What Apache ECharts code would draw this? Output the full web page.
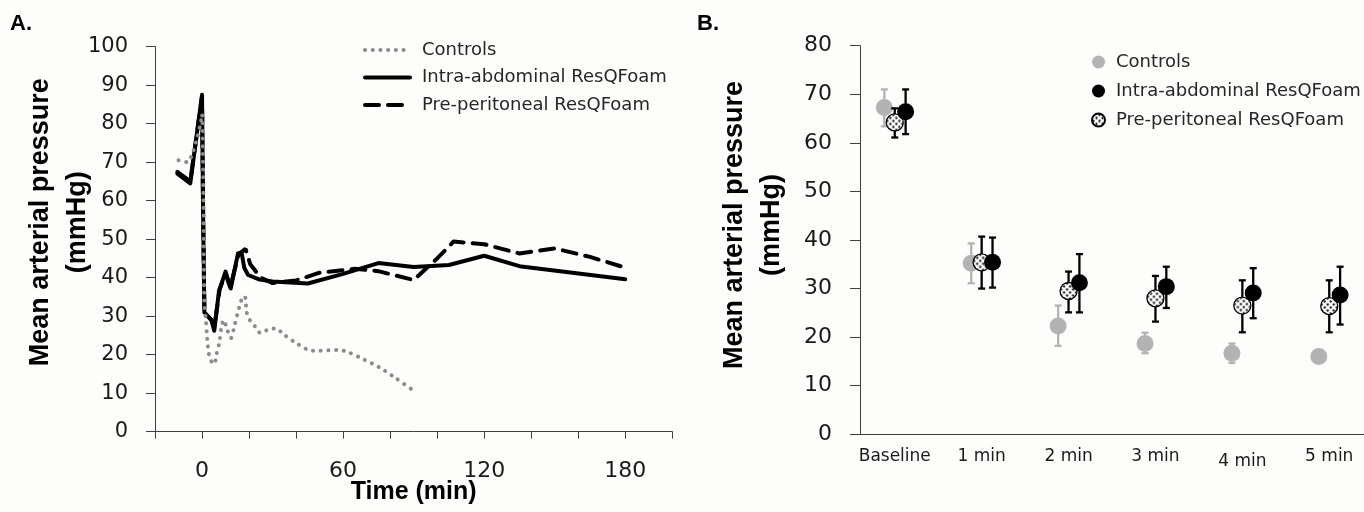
<!DOCTYPE html>
<html>
<head>
<meta charset="utf-8">
<script src="https://cdn.jsdelivr.net/npm/echarts@6/dist/echarts.min.js"></script>
<style>
html, body { margin: 0; padding: 0; background: #fdfdfb; }
#main { width: 1364px; height: 512px; }
</style>
</head>
<body>
<div id="main"></div>
<script>
// ---- panel A : MAP over time (min) ----
var controlsTime = [-10, -6.2, -4.3, -2.1, -0.5, 0, 0.6, 1, 1.6, 2.2, 3, 4.2, 5.2, 6.1, 7.3, 8.2, 9.2, 10.6, 12.3, 13.4, 15, 16.2, 17.5, 18.4, 19, 20.3, 22.6, 25, 28.3, 31.4, 34.5, 40.6, 47, 58.5, 62, 68.7, 75.5, 81.7, 91];
var controlsMap  = [70.5, 70, 71.9, 76.2, 80.5, 82.5, 60, 33, 29.5, 24, 20, 18, 17.6, 20, 23, 27, 29, 26.7, 24.3, 26.5, 30.5, 33, 35.2, 34.8, 31, 29, 27.3, 25.6, 26.6, 26.8, 25.4, 22.8, 21, 21.2, 20.7, 18.8, 16.7, 14.2, 10.2];

var intraTime = [-10.5, -5, 0, 0.4, 1, 4, 5.2, 7.2, 10, 12.2, 15.3, 16.8, 18, 19.6, 24.5, 30, 45, 60, 75, 90, 105, 120, 135, 180];
var intraMap  = [67, 64.5, 87.5, 60, 31, 29, 26.2, 36.5, 41.6, 37.2, 46.3, 46.6, 42.5, 40.7, 39.5, 39, 38.5, 41, 43.8, 42.8, 43.3, 45.7, 43, 39.6];

var preTime = [-10.5, -5, 0, 0.4, 1, 4, 5.2, 7.5, 10, 12, 15.5, 18.5, 20.5, 25, 30, 40, 50, 65, 75, 90, 100, 107, 120, 135, 150, 165, 180];
var preMap  = [67.5, 65, 87, 60, 31, 29, 27, 37, 41, 37.5, 46, 47.5, 43.5, 40, 38.6, 39.3, 41.3, 42.3, 41.7, 39.4, 45, 49.4, 48.7, 46.3, 47.6, 45.4, 42.6];

var timeLabels = [0, 60, 120, 180];

// ---- panel B : MAP per minute, mean with error bars ----
var stepLabels = ['Baseline', '1 min', '2 min', '3 min', '4 min', '5 min'];
var controlsMean = [67.3, 35.2, 22.3, 18.7, 16.7, 16.0];
var controlsLow  = [63.4, 31.1, 18.2, 16.7, 14.7, 15.0];
var controlsHigh = [71.0, 39.3, 26.5, 20.9, 18.7, 17.0];
var preMean = [64.2, 35.4, 29.5, 28.0, 26.5, 26.4];
var preLow  = [61.1, 30.0, 25.1, 23.2, 21.0, 21.0];
var preHigh = [67.1, 40.7, 33.5, 32.6, 31.7, 31.7];
var intraMean = [66.4, 35.4, 31.2, 30.4, 29.1, 28.7];
var intraLow  = [61.8, 30.2, 25.1, 26.0, 23.9, 22.6];
var intraHigh = [71.0, 40.5, 37.1, 34.5, 34.2, 34.5];

function zip(xs, ys) {
  return xs.map(function (x, i) { return [x, ys[i]]; });
}

// dotted fill for the pre-peritoneal markers
var dotCanvas = document.createElement('canvas');
dotCanvas.width = 6; dotCanvas.height = 6;
var ctx = dotCanvas.getContext('2d');
ctx.fillStyle = '#fff'; ctx.fillRect(0, 0, 6, 6);
ctx.fillStyle = '#000';
ctx.beginPath(); ctx.arc(1.5, 1.5, 1.15, 0, Math.PI * 2); ctx.fill();
ctx.beginPath(); ctx.arc(4.5, 4.5, 1.15, 0, Math.PI * 2); ctx.fill();
var markerSize = 17;
var dotFillLegend = { image: dotCanvas, repeat: 'repeat' };
// scatter symbols are drawn as a 2x2 path scaled up, so shrink the pattern to match
var dotFill = { image: dotCanvas, repeat: 'repeat', scaleX: 2 / markerSize, scaleY: 2 / markerSize };

var shift = { Controls: -0.12, Pre: 0, Intra: 0.125 };

function errorBars(offset, lows, highs, color, z) {
  return {
    type: 'custom', xAxisIndex: 1, yAxisIndex: 1, z: z, silent: true,
    encode: { x: 0, y: [1, 2] },
    data: lows.map(function (l, i) { return [i + offset, l, highs[i]]; }),
    renderItem: function (params, api) {
      var x = api.value(0);
      var lo = api.coord([x, api.value(1)]);
      var hi = api.coord([x, api.value(2)]);
      var w = 3.5;
      var st = { stroke: color, lineWidth: 2.3 };
      return { type: 'group', children: [
        { type: 'line', shape: { x1: lo[0], y1: lo[1], x2: hi[0], y2: hi[1] }, style: st },
        { type: 'line', shape: { x1: lo[0] - w, y1: lo[1], x2: lo[0] + w, y2: lo[1] }, style: st },
        { type: 'line', shape: { x1: hi[0] - w, y1: hi[1], x2: hi[0] + w, y2: hi[1] }, style: st }
      ] };
    }
  };
}

function means(vals, offset) {
  return vals.map(function (v, i) { return [i + offset, v]; });
}

var tickFont = 'DejaVu Sans';
var titleFont = 'Liberation Sans';
var axisColor = '#404040';

var chart = echarts.init(document.getElementById('main'));
var option = {
  backgroundColor: '#fdfdfb',
  animation: false,
  graphic: [
    { type: 'text', left: 10, top: 13, style: { text: 'A.', font: 'bold 22px "Liberation Sans"', fill: '#000' } },
    { type: 'text', left: 697, top: 13, style: { text: 'B.', font: 'bold 22px "Liberation Sans"', fill: '#000' } }
  ],
  legend: [
    {
      left: 363, top: 40, padding: 0, orient: 'vertical', itemWidth: 45, itemHeight: 1, itemGap: 7.5,
      data: ['Controls', 'Intra-abdominal ResQFoam', 'Pre-peritoneal ResQFoam'],
      lineStyle: { width: 4 },
      textStyle: { fontFamily: tickFont, fontSize: 18, color: '#262626', lineHeight: 20, padding: [0, 0, 0, 7] }
    },
    {
      left: 1091, top: 52, padding: 0, orient: 'vertical', itemWidth: 13, itemHeight: 13, itemGap: 9,
      data: [
        { name: 'Controls B' },
        { name: 'Intra-abdominal ResQFoam B' },
        { name: 'Pre-peritoneal ResQFoam B', itemStyle: { color: dotFillLegend } }
      ],
      formatter: function (n) { return n.replace(/ B$/, ''); },
      textStyle: { fontFamily: tickFont, fontSize: 18, color: '#262626', lineHeight: 20, padding: [0, 0, 0, 6] }
    }
  ],
  grid: [
    { left: 155, top: 46.7, right: 691.7, bottom: 80.3, outerBoundsMode: 'none' },
    { left: 860, top: 45.7, right: 0, bottom: 77.7, outerBoundsMode: 'none' }
  ],
  xAxis: [
    {
      gridIndex: 0, type: 'value', min: -20, max: 200, interval: 20,
      name: 'Time (min)', nameLocation: 'middle', nameGap: 48, nameMoveOverlap: false,
      nameTextStyle: { fontFamily: titleFont, fontWeight: 'bold', fontSize: 25, color: '#000' },
      axisLine: { onZero: false, lineStyle: { color: axisColor, width: 1 } },
      axisTick: { show: true, length: 7, lineStyle: { color: axisColor } },
      axisLabel: { customValues: timeLabels, margin: 29, fontFamily: tickFont, fontSize: 22, color: '#1a1a1a' },
      splitLine: { show: false }
    },
    {
      gridIndex: 1, type: 'value', min: -0.4, max: 5.4,
      axisLine: { onZero: false, lineStyle: { color: axisColor, width: 1 } },
      axisTick: { show: false },
      axisLabel: {
        customValues: [0, 1, 2, 3, 4, 5], margin: 14, fontFamily: tickFont, fontSize: 17, color: '#1a1a1a',
        formatter: function (v) {
          var s = stepLabels[Math.round(v)];
          return Math.round(v) === 4 ? '{low|' + s + '}' : s;
        },
        rich: { low: { fontFamily: tickFont, fontSize: 17, color: '#1a1a1a', padding: [5, 0, 0, 0] } }
      },
      splitLine: { show: false }
    }
  ],
  yAxis: [
    {
      gridIndex: 0, type: 'value', min: 0, max: 100, interval: 10,
      name: 'Mean arterial pressure\n(mmHg)', nameLocation: 'middle', nameGap: 59, nameMoveOverlap: false,
      nameTextStyle: { fontFamily: titleFont, fontWeight: 'bold', fontSize: 27, lineHeight: 37, color: '#000', padding: [0, 0, 0, 34] },
      axisLine: { show: true, onZero: false, lineStyle: { color: axisColor, width: 1 } },
      axisTick: { show: true, length: 9, lineStyle: { color: axisColor } },
      axisLabel: { margin: 27, fontFamily: tickFont, fontSize: 21, color: '#1a1a1a' },
      splitLine: { show: false }
    },
    {
      gridIndex: 1, type: 'value', min: 0, max: 80, interval: 10,
      name: 'Mean arterial pressure\n(mmHg)', nameLocation: 'middle', nameGap: 70, nameMoveOverlap: false,
      nameTextStyle: { fontFamily: titleFont, fontWeight: 'bold', fontSize: 27, lineHeight: 37, color: '#000', padding: [0, 0, 0, 30] },
      axisLine: { show: true, onZero: false, lineStyle: { color: axisColor, width: 1 } },
      axisTick: { show: true, length: 10, lineStyle: { color: axisColor } },
      axisLabel: { margin: 28, fontFamily: tickFont, fontSize: 22, color: '#1a1a1a' },
      splitLine: { show: false }
    }
  ],
  series: [
    {
      name: 'Pre-peritoneal ResQFoam', type: 'line', xAxisIndex: 0, yAxisIndex: 0,
      data: zip(preTime, preMap), symbol: 'none',
      lineStyle: { color: '#000', width: 4, type: [14, 9], cap: 'round' },
      itemStyle: { color: '#000' }
    },
    {
      name: 'Intra-abdominal ResQFoam', type: 'line', xAxisIndex: 0, yAxisIndex: 0,
      data: zip(intraTime, intraMap), symbol: 'none',
      lineStyle: { color: '#000', width: 4, cap: 'round', join: 'round' },
      itemStyle: { color: '#000' }
    },
    {
      name: 'Controls', type: 'line', xAxisIndex: 0, yAxisIndex: 0,
      data: zip(controlsTime, controlsMap), symbol: 'none', smooth: 0.3,
      lineStyle: { color: '#8c8c8c', width: 4, type: [0.1, 7.6], cap: 'round' },
      itemStyle: { color: '#8c8c8c' }
    },
    errorBars(shift.Controls, controlsLow, controlsHigh, '#b3b3b3', 2),
    {
      name: 'Controls B', type: 'scatter', xAxisIndex: 1, yAxisIndex: 1, z: 3,
      data: means(controlsMean, shift.Controls), symbol: 'circle', symbolSize: markerSize,
      itemStyle: { color: '#b3b3b3', opacity: 1 }
    },
    errorBars(shift.Pre, preLow, preHigh, '#000', 4),
    {
      name: 'Pre-peritoneal ResQFoam B', type: 'scatter', xAxisIndex: 1, yAxisIndex: 1, z: 5,
      data: means(preMean, shift.Pre), symbol: 'circle', symbolSize: markerSize,
      itemStyle: { color: dotFill, borderColor: '#000', borderWidth: 1.3, opacity: 1 }
    },
    errorBars(shift.Intra, intraLow, intraHigh, '#000', 6),
    {
      name: 'Intra-abdominal ResQFoam B', type: 'scatter', xAxisIndex: 1, yAxisIndex: 1, z: 7,
      data: means(intraMean, shift.Intra), symbol: 'circle', symbolSize: markerSize,
      itemStyle: { color: '#000', opacity: 1 }
    }
  ]
};
chart.setOption(option);
</script>
</body>
</html>
